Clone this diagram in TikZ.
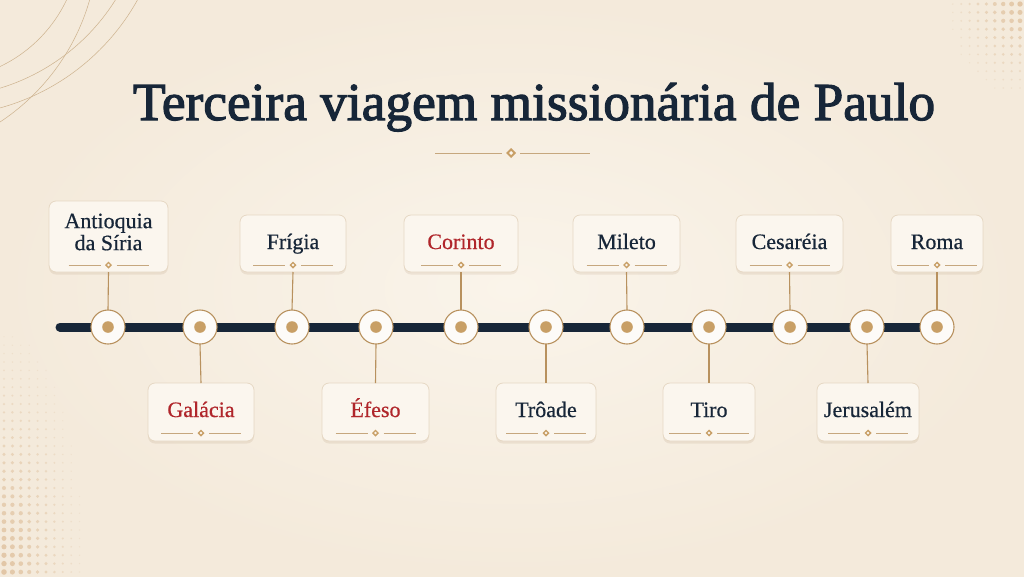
\documentclass[tikz,border=0pt]{standalone}
\usepackage{fontspec}
\setmainfont{Liberation Serif}
\newfontface\titlefont{Liberation Serif}[FakeBold=2.2]
\newfontface\labelfont{Liberation Serif}[FakeBold=0.6]
\usetikzlibrary{shadows}
\definecolor{bgA}{HTML}{FAF4EA}
\definecolor{bgB}{HTML}{F4EADB}
\definecolor{navy}{HTML}{172638}
\definecolor{redt}{HTML}{B0262B}
\definecolor{gold}{HTML}{B8915E}
\definecolor{golddot}{HTML}{C89F66}
\definecolor{boxfill}{HTML}{FBF6EE}
\definecolor{boxline}{HTML}{E6D8C4}
\definecolor{dotc}{HTML}{D9B48A}
\tikzset{
  card/.style={draw=boxline, line width=0.8pt, fill=boxfill, rounded corners=7pt,
    drop shadow={shadow xshift=0pt, shadow yshift=-2.5pt, opacity=0.10, fill=brown!70!black},
    inner sep=0pt, outer sep=0pt},
  lbl/.style={font=\labelfont\fontsize{22}{22}\selectfont, text=navy, inner sep=0pt},
  lblred/.style={lbl, text=redt},
  stop/.style={circle, draw=gold, line width=1.1pt, fill=white!60!boxfill, minimum size=34pt, inner sep=0pt, outer sep=0pt},
  link/.style={draw=gold, line width=1.1pt},
  orn/.style={draw=gold!80, line width=0.7pt},
}
\newcommand{\ornament}[2]{%
  \draw[orn] (#1-40,#2) -- (#1-8,#2);
  \draw[orn] (#1+8,#2) -- (#1+40,#2);
  \fill[golddot] (#1,#2-3.5) -- (#1+3.5,#2) -- (#1,#2+3.5) -- (#1-3.5,#2) -- cycle;
  \fill[boxfill] (#1,#2-1.3) -- (#1+1.3,#2) -- (#1,#2+1.3) -- (#1-1.3,#2) -- cycle;
}
\begin{document}
\begin{tikzpicture}[x=1pt,y=-1pt]
\useasboundingbox (0,0) rectangle (1024,576);
\shade[inner color=bgA, outer color=bgB] (0,0) rectangle (1024,576);
% decorative arcs
\begin{scope}
\clip (0,0) rectangle (200,160);
\draw[gold!70, line width=0.5pt] (-60,-60) circle (140);
\draw[gold!70, line width=0.5pt] (-60,-110) circle (207);
\draw[gold!70, line width=0.5pt] (-60,-110) circle (226);
\draw[gold!70, line width=0.5pt] (-120,-60) circle (218);
\end{scope}
% dot patterns
\foreach \i in {0,...,8}{\foreach \j in {0,...,11}{
  \pgfmathsetmacro\d{sqrt((\i/8.5)^2+(\j/11)^2)}
  \pgfmathtruncatemacro\ok{\d<1?1:0}
  \ifnum\ok=1
   \fill[dotc, opacity={0.15+0.5*(1-\d)}] (1020-8.4*\i,4+8.4*\j) circle ({0.7+2.0*(1-\d)});
  \fi
}}
\foreach \i in {0,...,9}{\foreach \j in {0,...,28}{
  \pgfmathsetmacro\d{sqrt((\i/9.5)^2+(\j/28.5)^2)}
  \pgfmathtruncatemacro\ok{\d<1?1:0}
  \ifnum\ok=1
   \fill[dotc, opacity={0.15+0.5*(1-\d)}] (4+8.4*\i,572-8.4*\j) circle ({0.6+2.2*(1-\d)});
  \fi
}}
% title
\node[text=navy, inner sep=0pt, anchor=base] (title) at (534,120)
  {\resizebox{802pt}{!}{\titlefont\fontsize{56}{56}\selectfont Terceira viagem missionária de Paulo}};
\draw[orn] (435,153) -- (502,153);
\draw[orn] (520,153) -- (590,153);
\fill[golddot] (511,148) -- (516,153) -- (511,158) -- (506,153) -- cycle;
\fill[boxfill] (511,151) -- (513,153) -- (511,155) -- (509,153) -- cycle;
% timeline
\coordinate (tl) at (60,327);
\coordinate (tr) at (937,327);
\draw[navy, line width=9pt, line cap=round] (tl) -- (tr);
% stops
\foreach \n/\x in {1/108,2/200,3/292,4/376,5/461,6/546,7/627,8/709,9/790,10/867,11/937}{
  \node[stop] (c\n) at (\x,327) {};
  \fill[golddot] (c\n.center) circle (5.8);
}
% top cards
\node[card, minimum width=119pt, minimum height=71pt] (b1) at (108.5,236.5) {};
\node[lbl, align=center] (t1) at (108.5,232) {\labelfont\fontsize{22}{21}\selectfont Antioquia\\da Síria};
\ornament{108.5}{265}
\foreach \n/\x/\w/\txt/\st in {3/293/106/Frígia/lbl,5/461/114/Corinto/lblred,7/626.5/107/Mileto/lbl,9/789.5/107/Cesaréia/lbl,11/937/92/Roma/lbl}{
  \node[card, minimum width=\w pt, minimum height=57pt] (b\n) at (\x,243.5) {};
  \node[\st, anchor=base] (t\n) at (\x,249) {\txt};
  \ornament{\x}{265}
}
% bottom cards
\foreach \n/\x/\w/\txt/\st in {2/201/106/Galácia/lblred,4/375.5/107/Éfeso/lblred,6/546/100/Trôade/lbl,8/709/92/Tiro/lbl,10/868/102/Jerusalém/lbl}{
  \node[card, minimum width=\w pt, minimum height=58pt] (b\n) at (\x,412) {};
  \node[\st, anchor=base] (t\n) at (\x,417) {\txt};
  \ornament{\x}{433}
}
% connectors
\foreach \n in {1,3,5,7,9,11}{ \draw[link] (b\n.south) -- (c\n.north); }
\foreach \n in {2,4,6,8,10}{ \draw[link] (c\n.south) -- (b\n.north); }
\end{tikzpicture}
\end{document}
